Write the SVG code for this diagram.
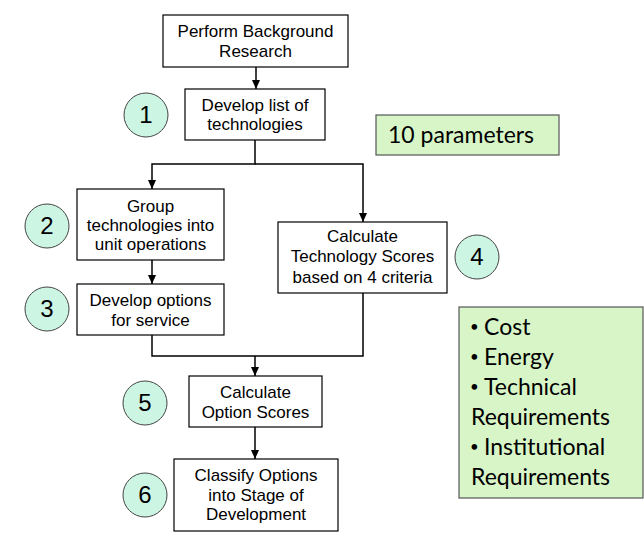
<svg xmlns="http://www.w3.org/2000/svg" width="644" height="544" viewBox="0 0 644 544">
<defs>
<marker id="ah" markerWidth="10" markerHeight="10" refX="9" refY="5" orient="auto" markerUnits="userSpaceOnUse">
<path d="M0,1 L9,5 L0,9 Z" fill="#000"/>
</marker>
<style>
.box{fill:#fff;stroke:#000;stroke-width:1.2}
.t{font-family:"Liberation Sans",Arial,sans-serif;font-size:17px;fill:#000;text-anchor:middle}
.c{fill:#ccf5e4;stroke:#444;stroke-width:1}
.n{font-family:"Liberation Sans",Arial,sans-serif;font-size:24px;fill:#000;text-anchor:middle}
.g{fill:#d8f5c8;stroke:#555;stroke-width:1.2}
.gt{font-family:Lato,"Open Sans",sans-serif;font-size:23px;fill:#000}
.b{font-size:15px}
.ln{fill:none;stroke:#000;stroke-width:1.5}
</style>
</defs>
<rect width="644" height="544" fill="#fff"/>
<g id="connectors">
<line class="ln" x1="256" y1="67" x2="256" y2="89" marker-end="url(#ah)"/>
<polyline class="ln" points="255,140 255,164 152,164 152,189" marker-end="url(#ah)"/>
<polyline class="ln" points="255,164 363,164 363,222" marker-end="url(#ah)"/>
<line class="ln" x1="152" y1="260" x2="152" y2="284" marker-end="url(#ah)"/>
<polyline class="ln" points="152,335 152,356 363,356 363,293"/>
<line class="ln" x1="255" y1="356" x2="255" y2="376" marker-end="url(#ah)"/>
<line class="ln" x1="255" y1="427" x2="255" y2="459" marker-end="url(#ah)"/>
</g>
<g id="n0">
<rect class="box" x="163" y="15" width="185" height="52"/>
<text class="t" x="255.5" y="37">Perform Background</text>
<text class="t" x="255.5" y="57">Research</text>
</g>
<g id="n1">
<rect class="box" x="185" y="89" width="140" height="51"/>
<text class="t" x="255" y="111">Develop list of</text>
<text class="t" x="255" y="130">technologies</text>
</g>
<g id="c1"><circle class="c" cx="146" cy="115" r="22"/><text class="n" x="146" y="123">1</text></g>
<g id="n2">
<rect class="box" x="77" y="189" width="147" height="71"/>
<text class="t" x="150.5" y="212">Group</text>
<text class="t" x="150.5" y="231">technologies into</text>
<text class="t" x="150.5" y="250">unit operations</text>
</g>
<g id="c2"><circle class="c" cx="47" cy="226" r="22"/><text class="n" x="47" y="234">2</text></g>
<g id="n3">
<rect class="box" x="77" y="284" width="147" height="51"/>
<text class="t" x="150.5" y="306">Develop options</text>
<text class="t" x="150.5" y="326">for service</text>
</g>
<g id="c3"><circle class="c" cx="47" cy="309" r="22"/><text class="n" x="47" y="317">3</text></g>
<g id="n4">
<rect class="box" x="278" y="222" width="169" height="71"/>
<text class="t" x="362.5" y="242">Calculate</text>
<text class="t" x="362.5" y="262">Technology Scores</text>
<text class="t" x="362.5" y="283">based on 4 criteria</text>
</g>
<g id="c4"><circle class="c" cx="477" cy="257" r="22"/><text class="n" x="477" y="265">4</text></g>
<g id="n5">
<rect class="box" x="189" y="376" width="133" height="51"/>
<text class="t" x="255.5" y="398">Calculate</text>
<text class="t" x="255.5" y="418">Option Scores</text>
</g>
<g id="c5"><circle class="c" cx="145" cy="403" r="22"/><text class="n" x="145" y="411">5</text></g>
<g id="n6">
<rect class="box" x="174" y="459" width="164" height="72"/>
<text class="t" x="256" y="481">Classify Options</text>
<text class="t" x="256" y="501">into Stage of</text>
<text class="t" x="256" y="520">Development</text>
</g>
<g id="c6"><circle class="c" cx="145" cy="495" r="22"/><text class="n" x="145" y="503">6</text></g>
<g id="params">
<rect class="g" x="376" y="115" width="183" height="40"/>
<text class="gt" x="388" y="143">10 parameters</text>
</g>
<g id="criteria">
<rect class="g" x="459" y="307" width="184" height="191"/>
<text class="gt" y="335"><tspan class="b" x="470" dy="-3">•</tspan><tspan x="484" dy="3">Cost</tspan></text>
<text class="gt" y="365"><tspan class="b" x="470" dy="-3">•</tspan><tspan x="484" dy="3">Energy</tspan></text>
<text class="gt" y="395"><tspan class="b" x="470" dy="-3">•</tspan><tspan x="484" dy="3">Technical</tspan></text>
<text class="gt" x="471" y="425">Requirements</text>
<text class="gt" y="455"><tspan class="b" x="470" dy="-3">•</tspan><tspan x="484" dy="3">Institutional</tspan></text>
<text class="gt" x="471" y="485">Requirements</text>
</g>
</svg>
